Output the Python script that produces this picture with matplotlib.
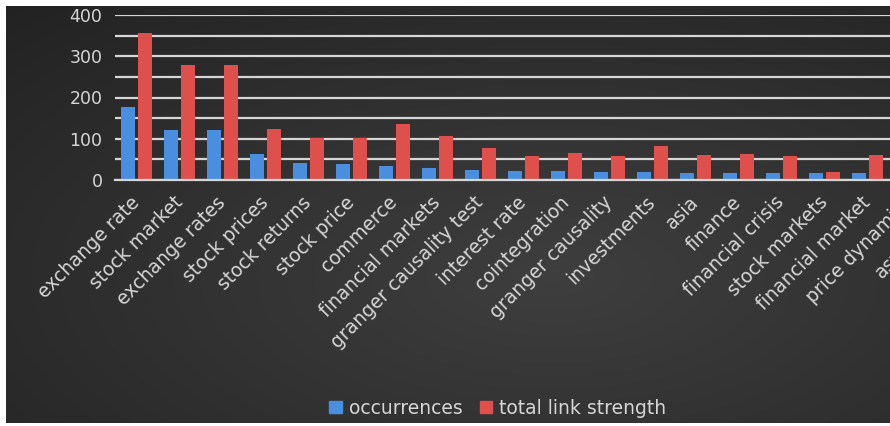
import numpy as np
import matplotlib.pyplot as plt
from matplotlib.patches import Patch

keywords = ["exchange rate", "stock market", "exchange rates", "stock prices",
            "stock returns", "stock price", "commerce", "financial markets",
            "granger causality test", "interest rate", "cointegration",
            "granger causality", "investments", "asia", "finance",
            "financial crisis", "stock markets", "financial market",
            "price dynamics", "asymmetry"]
occurrences = [176, 121, 121, 63, 42, 39, 34, 28, 24, 22, 22, 20, 19, 18, 18,
               18, 17, 17, 16, 16]
link_strength = [357, 279, 279, 124, 101, 101, 135, 107, 78, 58, 66, 57, 83,
                 61, 62, 57, 20, 61, 50, 45]

blue = "#4a8fdf"
red = "#df504c"
light = "#d6d6d6"

fig = plt.figure(figsize=(8.9, 4.26), dpi=100, facecolor="white")

# dark background with soft radial gradient
bg = fig.add_axes([6 / 890, 3 / 426, 884 / 890, 417 / 426])
bg.axis("off")
gx, gy = np.meshgrid(np.linspace(0, 1, 300), np.linspace(0, 1, 150))
r = np.sqrt(((gx - 0.62) / 0.9) ** 2 + ((gy - 0.35) / 0.9) ** 2)
shade = 0.245 - 0.11 * np.clip(r, 0, 1)
bg.imshow(np.dstack([shade, shade, shade]), aspect="auto",
          extent=[0, 1, 0, 1], origin="lower")
bg.set_xlim(0, 1)
bg.set_ylim(0, 1)

# plot area extends past the right edge (chart is cropped there)
ax = fig.add_axes([115 / 890, 246 / 426, 860 / 890, 165 / 426])
ax.patch.set_alpha(0)
x = np.arange(len(keywords))
w = 0.33
ax.bar(x - 0.2, occurrences, w, color=blue, zorder=3)
ax.bar(x + 0.2, link_strength, w, color=red, zorder=3)

ax.set_xlim(-0.5, len(keywords) - 0.5)
ax.set_ylim(0, 400)
ax.set_yticks(range(0, 401, 100))
ax.set_yticks(range(50, 400, 100), minor=True)
ax.grid(axis="y", which="both", color=light, linewidth=1.6, zorder=1)
for s in ["top", "right", "left"]:
    ax.spines[s].set_visible(False)
ax.spines["bottom"].set_color(light)
ax.spines["bottom"].set_linewidth(1.6)
ax.spines["bottom"].set_zorder(4)

ax.set_xticks(x, keywords, rotation=45, ha="right", va="center",
              rotation_mode="anchor", fontsize=13.5, color=light)
ax.tick_params(axis="x", length=0, pad=14)
ax.tick_params(axis="y", which="both", length=0, pad=9, labelsize=12.5,
               labelcolor=light)

handles = [Patch(color=blue), Patch(color=red)]
fig.legend(handles, ["occurrences", "total link strength"], loc="center",
           bbox_to_anchor=(498 / 890, 1 - 408 / 426), ncol=2, frameon=False,
           fontsize=13.5, labelcolor=light, handlelength=0.65,
           handleheight=0.65, handletextpad=0.4, columnspacing=0.9)

plt.savefig("out.png", dpi=100, facecolor="white")
